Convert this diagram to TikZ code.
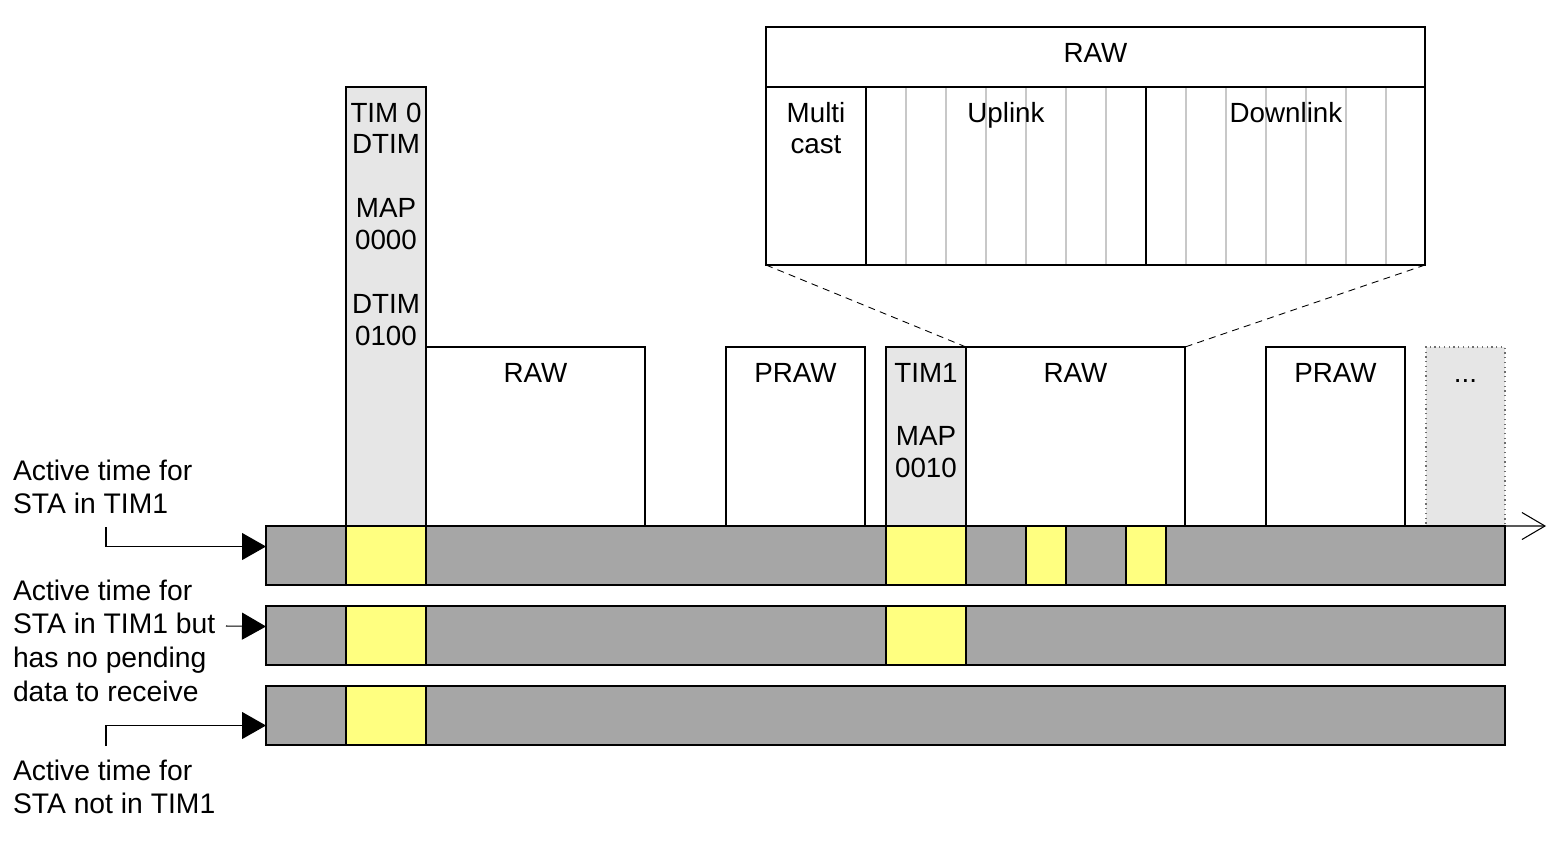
\documentclass[tikz,border=0pt]{standalone}
\usepackage{fontspec}
\setmainfont{Liberation Sans}
\usetikzlibrary{fit,arrows.meta,calc}
\definecolor{barG}{RGB}{166,166,166}
\definecolor{barY}{RGB}{255,255,128}
\definecolor{lightG}{RGB}{230,230,230}
\definecolor{gridG}{RGB}{200,200,200}
\definecolor{dotG}{RGB}{110,110,110}
\newcommand\fsBox{\fontsize{15.8}{18.2}\selectfont}
\newcommand\fsLab{\fontsize{16.1}{19.3}\selectfont}
\begin{document}
\begin{tikzpicture}[x=0.02cm,y=-0.02cm,
  frame/.style={draw=black, line width=0.85pt, inner sep=0pt, outer sep=0pt},
  gbar/.style={frame, fill=barG},
  ybar/.style={frame, fill=barY},
  wbox/.style={frame, fill=white},
  tbox/.style={frame, fill=lightG},
  dbox/.style={draw=dotG, dotted, line width=0.7pt, fill=lightG, inner sep=0pt, outer sep=0pt},
  txt/.style={inner sep=0pt, outer sep=0pt, anchor=base, font=\fsBox},
  lab/.style={inner sep=0pt, outer sep=0pt, anchor=base west, font=\fsLab},
  grid/.style={draw=gridG, line width=0.7pt},
  divider/.style={draw=black, line width=0.85pt},
  zoomline/.style={draw=black, dashed, line width=0.5pt, dash pattern=on 4pt off 3pt},
  pointer/.style={draw=black, line width=0.6pt, -{Triangle[length=0.48cm,width=0.54cm]}},
  axis/.style={draw=black, line width=0.6pt, -{Straight Barb[length=0.46cm,width=0.54cm,line width=0.6pt]}}
]
\useasboundingbox (0,0) rectangle (1553,860);

% detail of RAW
\node[wbox, fit={(766,87) (1425,265)}] (detail) {};
\foreach \gx in {906,946,986,1026,1066,1106,1186,1226,1266,1306,1346,1386}
  \draw[grid] (\gx,87) -- (\gx,265);
\draw[divider] (866,87) -- (866,265);
\draw[divider] (1146,87) -- (1146,265);
\node[frame, fit={(766,87) (1425,265)}] (detailframe) {};
\node[wbox, fit={(766,27) (1425,87)}] (hdr) {};
\node[txt] (hdrt) at (1095.5,62) {RAW};
\node[txt] (mct) at (816,122) {\begin{tabular}[t]{@{}c@{}}Multi\\cast\end{tabular}};
\node[txt] (upt) at (1006,122) {Uplink};
\node[txt] (dnt) at (1286,122) {Downlink};

% upper boxes
\node[tbox, fit={(346,87) (426,526)}] (tim0) {};
\node[txt] (tim0t) at (386,122) {\begin{tabular}[t]{@{}c@{}}TIM 0\\DTIM\\ \\MAP\\0000\\ \\DTIM\\0100\end{tabular}};
\node[wbox, fit={(426,347) (645,526)}] (raw1) {};
\node[txt] (raw1t) at (535.5,382) {RAW};
\node[wbox, fit={(726,347) (865,526)}] (praw1) {};
\node[txt] (praw1t) at (795.5,382) {PRAW};
\node[tbox, fit={(886,347) (966,526)}] (tim1) {};
\node[txt] (tim1t) at (926,382) {\begin{tabular}[t]{@{}c@{}}TIM1\\ \\MAP\\0010\end{tabular}};
\node[wbox, fit={(966,347) (1185,526)}] (raw2) {};
\node[txt] (raw2t) at (1075.5,382) {RAW};
\node[wbox, fit={(1266,347) (1405,526)}] (praw2) {};
\node[txt] (praw2t) at (1335.5,382) {PRAW};
\node[dbox, fit={(1426,347) (1505,526)}] (more) {};
\node[txt] (moret) at (1465.5,382) {...};

% zoom lines
\draw[zoomline] (detail.south west) -- (raw2.north west);
\draw[zoomline] (detail.south east) -- (raw2.north east);

% bars
\node[gbar, fit={(266,526) (1505,585)}] (bar1) {};
\node[ybar, fit={(346,526) (426,585)}] (y11) {};
\node[ybar, fit={(886,526) (966,585)}] (y12) {};
\node[ybar, fit={(1026,526) (1066,585)}] (y13) {};
\node[ybar, fit={(1126,526) (1166,585)}] (y14) {};

\node[gbar, fit={(266,606) (1505,665)}] (bar2) {};
\node[ybar, fit={(346,606) (426,665)}] (y21) {};
\node[ybar, fit={(886,606) (966,665)}] (y22) {};

\node[gbar, fit={(266,686) (1505,745)}] (bar3) {};
\node[ybar, fit={(346,686) (426,745)}] (y31) {};

% time axis
\coordinate (axend) at (1546,526);
\draw[axis] (bar1.north east) -- (axend);

% labels
\node[lab] (l1) at (13,480) {\begin{tabular}[t]{@{}l@{}}Active time for\\STA in TIM1\end{tabular}};
\node[lab] (l2) at (13,600) {\begin{tabular}[t]{@{}l@{}}Active time for\\STA in TIM1 but\\has no pending\\data to receive\end{tabular}};
\node[lab] (l3) at (13,780) {\begin{tabular}[t]{@{}l@{}}Active time for\\STA not in TIM1\end{tabular}};

\coordinate (s1) at (106,527);
\coordinate (s2) at (226,626);
\coordinate (s3) at (106,746);
\draw[pointer] (s1) |- ($(bar1.west)+(0,-9)$);
\draw[pointer] (s2) -- ($(bar2.west)+(0,-9)$);
\draw[pointer] (s3) |- ($(bar3.west)+(0,10)$);
\end{tikzpicture}
\end{document}
